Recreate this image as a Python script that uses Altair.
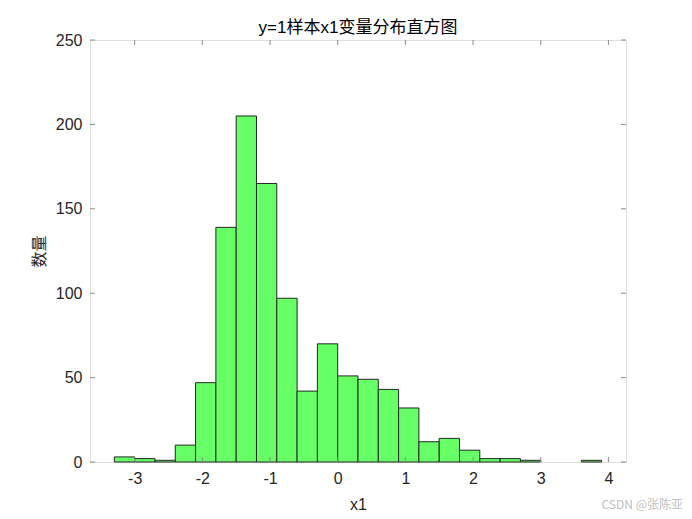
import altair as alt
import pandas as pd

# Histogram bin edges (x1) and counts
bin_edges = [-3.3, -3.0, -2.7, -2.4, -2.1, -1.8, -1.5, -1.2, -0.9, -0.6, -0.3,
             0.0, 0.3, 0.6, 0.9, 1.2, 1.5, 1.8, 2.1, 2.4, 2.7, 3.0, 3.3, 3.6, 3.9]
counts = [3, 2, 1, 10, 47, 139, 205, 165, 97, 42, 70,
          51, 49, 43, 32, 12, 14, 7, 2, 2, 1, 0, 0, 1]

x_ticks = [-3, -2, -1, 0, 1, 2, 3, 4]
y_ticks = [0, 50, 100, 150, 200, 250]

x_domain = [-3.66, 4.26]
y_domain = [0, 250]

W, H = 536, 422
FONT = "Liberation Sans, Arial, Noto Sans CJK SC"
TXT = "#262626"
FRAME = "#8c8c8c"

df = pd.DataFrame({"left": bin_edges[:-1], "right": bin_edges[1:], "count": counts})
dfx = pd.DataFrame({"t": x_ticks})
dfy = pd.DataFrame({"t": y_ticks})

xs = alt.Scale(domain=x_domain, nice=False, zero=False)
ys = alt.Scale(domain=y_domain, nice=False, zero=False)

bars = alt.Chart(df).transform_filter(alt.datum["count"] > 0).mark_rect(
    fill="#66FF66", stroke=TXT, strokeWidth=1
).encode(
    x=alt.X("left:Q", scale=xs, axis=alt.Axis(
        values=x_ticks, labelExpr="toString(datum.value)", ticks=False,
        domain=False, grid=False,
        labelPadding=8, labelFontSize=16, labelFont=FONT, labelColor=TXT,
        title="x1", titleFontSize=16, titleFont=FONT, titleColor=TXT,
        titleFontWeight="normal", titlePadding=10)),
    x2="right:Q",
    y=alt.Y("count:Q", scale=ys, axis=alt.Axis(
        values=y_ticks, labelExpr="toString(datum.value)", ticks=False,
        domain=False, grid=False,
        labelPadding=8, labelFontSize=16, labelFont=FONT, labelColor=TXT,
        title="数量", titleFontSize=16, titleFont=FONT, titleColor=TXT,
        titleFontWeight="normal", titlePadding=8)),
    y2=alt.datum(0),
)

tick_len = 5
xt_bottom = alt.Chart(dfx).mark_rule(color=FRAME, strokeWidth=1).encode(
    x=alt.X("t:Q", scale=xs), y=alt.value(H), y2=alt.value(H - tick_len))
xt_top = alt.Chart(dfx).mark_rule(color=FRAME, strokeWidth=1).encode(
    x=alt.X("t:Q", scale=xs), y=alt.value(0), y2=alt.value(tick_len))
yt_left = alt.Chart(dfy).mark_rule(color=FRAME, strokeWidth=1).encode(
    y=alt.Y("t:Q", scale=ys), x=alt.value(0), x2=alt.value(tick_len))
yt_right = alt.Chart(dfy).mark_rule(color=FRAME, strokeWidth=1).encode(
    y=alt.Y("t:Q", scale=ys), x=alt.value(W - tick_len), x2=alt.value(W))

watermark = alt.Chart(pd.DataFrame({"s": ["CSDN @张陈亚"]})).mark_text(
    align="right", baseline="middle", fontSize=12, color="#c0c0c0",
    font="Noto Sans CJK SC"
).encode(text="s:N", x=alt.value(593), y=alt.value(465))

chart = alt.layer(bars, xt_bottom, xt_top, yt_left, yt_right, watermark).properties(
    width=W, height=H,
    title=alt.TitleParams("y=1样本x1变量分布直方图", fontSize=17, font=FONT,
                          fontWeight="normal", color="#000000", anchor="middle",
                          offset=0, dy=5, frame="group"),
    autosize=alt.AutoSizeParams(type="none"),
    padding={"left": 82, "top": 32, "right": 58, "bottom": 49},
).configure_view(stroke=FRAME, strokeWidth=1).configure(background="white")

chart.save("out.html", embed_options={"renderer": "svg", "actions": False})
